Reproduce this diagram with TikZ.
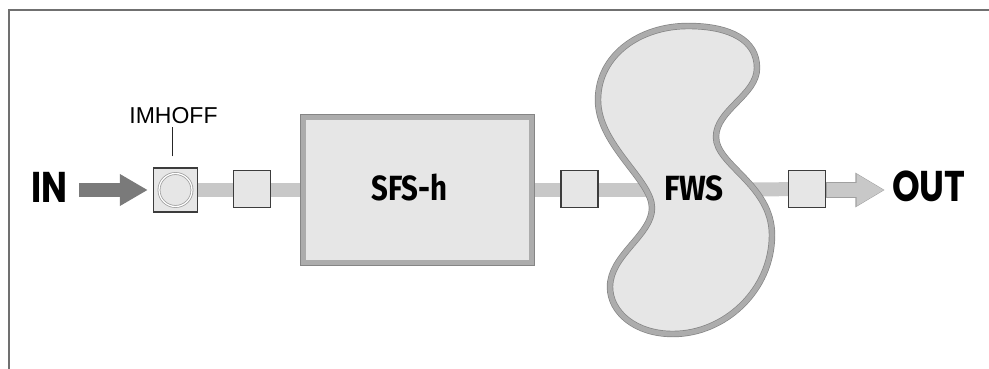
\documentclass[tikz,border=0pt]{standalone}
\usepackage{fontspec}
\setmainfont{Liberation Sans}
\newfontfamily\inoutfont{Poppins}
\newfontfamily\labfont{Fira Sans}
\usetikzlibrary{backgrounds,calc,arrows.meta}
\definecolor{framec}{HTML}{707070}
\definecolor{boxfill}{HTML}{E6E6E6}
\definecolor{boxline}{HTML}{3C3C3C}
\definecolor{pipegray}{HTML}{C8C8C8}
\definecolor{pipeline}{HTML}{A0A0A0}
\definecolor{bandgray}{HTML}{ACACAC}
\definecolor{bandline}{HTML}{858585}
\definecolor{inarrowc}{HTML}{7A7A7A}
\definecolor{ringc}{HTML}{A0A0A0}
\begin{document}
\begin{tikzpicture}[x=1pt,y=-1pt,
  frameline/.style={draw=framec, line width=1.4pt},
  smallbox/.style={draw=boxline, fill=boxfill, line width=1.4pt, minimum size=37pt, inner sep=0pt},
  pipe/.style={draw=pipegray, line width=14pt},
  band/.style={draw=bandline, line width=0.7pt, double=bandgray, double distance=5pt, fill=boxfill},
  inout/.style={font=\inoutfont\bfseries\fontsize{43}{43}\selectfont, inner sep=0pt},
  boxlabel/.style={font=\labfont\bfseries\fontsize{35}{35}\selectfont, inner sep=0pt},
  smalltext/.style={font=\fontsize{23}{23}\selectfont, inner sep=0pt},
  tick/.style={draw=black!85, line width=0.8pt}
]
\useasboundingbox (0,0) rectangle (989,369);
% frame
\draw[frameline] (9,369) -- (9,10) -- (989,10);

% IN
\node[inout, anchor=base west] (in) at (31,202) {\scalebox{0.8}[1]{IN}};
\node[smallbox, minimum size=44pt] (imh) at (175.5,190) {};
\draw[draw=ringc, line width=0.8pt, double=white, double distance=1.2pt] (imh.center) circle[radius=16.5pt];
\node[smalltext, anchor=base] (imhl) at (173.5,124) {IMHOFF};
\draw[tick] ($(imh.north)+(-3.5,-11)$) -- ($(imh.north)+(-3.5,-40)$);

\node[smallbox] (b1) at (252,189) {};
\node[band, minimum width=228.5pt, minimum height=145.5pt, inner sep=0pt] (sfs) at (417.5,190) {};
\node[boxlabel, anchor=base] (sfst) at (409.5,200) {\scalebox{0.84}[1]{SFS-h}};
\node[smallbox] (b2) at (579.5,189) {};

% FWS shape
\coordinate (fwsc) at (694,190);
\draw[band] (688,26) .. controls (730,26) and (757,40) .. (757,68)
  .. controls (757,95) and (716,110) .. (716,137)
  .. controls (716,165) and (772,185) .. (772,235)
  .. controls (772,290) and (725,334) .. (673,334)
  .. controls (635,334) and (610,312) .. (610,287)
  .. controls (610,255) and (652,235) .. (652,208)
  .. controls (652,180) and (598,145) .. (598,100)
  .. controls (598,55) and (640,26) .. (688,26) -- cycle;
\node[boxlabel, anchor=base] (fws) at (694,200) {\scalebox{0.9}[1]{FWS}};

\node[smallbox] (b3) at (807,189) {};
\coordinate (ina) at (79,190);
\coordinate (outtip) at (884,190);
\node[inout, anchor=base west] (out) at (892,201) {\scalebox{0.82}[1]{OUT}};

% arrows
\draw[draw=inarrowc, line width=14pt, -{Triangle[length=28pt,width=30pt]}, shorten >=5pt] (ina) -- (imh.west);
\draw[draw=pipeline, line width=15.4pt, -{Triangle[length=29.5pt,width=32.5pt]}] ($(b3.east)+(0,1)$) -- ($(outtip)+(0.9,0)$);
\draw[draw=pipegray, line width=14pt, -{Triangle[length=27.5pt,width=30pt]}] ($(b3.east)+(0.8,1)$) -- (outtip);

% pipes behind
\begin{pgfonlayer}{background}
\draw[pipe] (imh.center) -- (sfs.center);
\draw[pipe] (sfs.center) -- (fwsc);
\draw[pipe] (fwsc) -- (b3.center);
\end{pgfonlayer}
\end{tikzpicture}
\end{document}
